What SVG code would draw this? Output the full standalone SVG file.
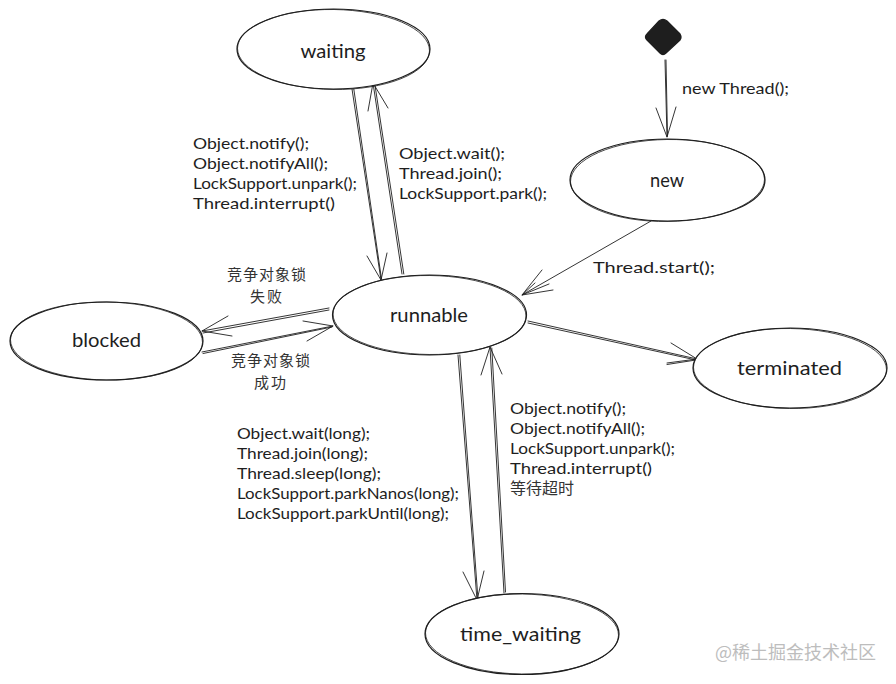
<svg xmlns="http://www.w3.org/2000/svg" width="896" height="684" viewBox="0 0 896 684">
<style>
.shape{fill:#fff;stroke:#1e1e1e;stroke-width:1.2}
.thin{fill:none;stroke:#1e1e1e;stroke-width:.8}
.line{fill:none;stroke:#1e1e1e;stroke-width:.9;stroke-linecap:round;stroke-linejoin:round}
text{font-family:"Lato","Noto Sans CJK SC",sans-serif;fill:#1e1e1e}
.node{font-size:19px;text-anchor:middle}
.lab{font-size:15px}
.cjk{font-family:"Noto Sans CJK SC",sans-serif;font-size:16px;fill:#333}
.cjk2{font-family:"Noto Sans CJK SC",sans-serif;font-size:15px;fill:#333}
.wm{font-family:"Noto Sans CJK SC",sans-serif;font-size:18px;fill:#bdbdbd}
</style>
<rect width="896" height="684" fill="#fff"/>
<g id="connectors">
<path class="line" d="M352 89L381 280M353.800 89L381.500 279M367 256L381 280L387 253"/>
<path class="line" d="M402 274L373 83M403.800 274L374.800 84M368 111L373 83L388 108"/>
<path class="line" d="M665 60L667 137M666 60L667.500 136M656 108L667 137L676 107"/>
<path class="line" d="M651 221L522 295M542 270L522 295L553 290M535 283L522 295L549 284"/>
<path class="line" d="M329 308L202 331M329 310L203 333M228 316L202 331L232 336"/>
<path class="line" d="M202 352L333 326M203 353.500L332 327M303 321L333 326L307 341"/>
<path class="line" d="M528 321L697 359M528 323L696 360M671 343L697 359L667 363M667 364.500L696 360"/>
<path class="line" d="M458 355L477 600M459.800 355L478 599M463 572L477 600L484 571"/>
<path class="line" d="M504 593L490 347M505.500 592L491.800 348M481 375L490 347L502 374"/>
</g>
<g id="node-waiting">
<ellipse class="shape" cx="333.500" cy="49" rx="96.500" ry="40"/>
<ellipse class="thin" cx="333.500" cy="49.500" rx="96" ry="40" transform="rotate(0.8 333.500 49.500)"/>
<text class="node" x="333" y="58" textLength="65" lengthAdjust="spacingAndGlyphs">waiting</text>
</g>
<g id="node-start">
<path d="M659 21Q663 18 667 21L680 34Q682 37 680 40L666 53Q663 56 660 53L647 40Q644 37 647 34Z" fill="#1e1e1e" stroke="#1e1e1e" stroke-width="1.300"/>
</g>
<g id="node-new">
<ellipse class="shape" cx="667.500" cy="180" rx="97.500" ry="41"/>
<ellipse class="thin" cx="667.500" cy="180.500" rx="97" ry="41" transform="rotate(-0.8 667.500 180.500)"/>
<text class="node" x="667" y="187" textLength="34" lengthAdjust="spacingAndGlyphs">new</text>
</g>
<g id="node-runnable">
<ellipse class="shape" cx="429.500" cy="315" rx="97" ry="40"/>
<ellipse class="thin" cx="429.500" cy="315" rx="96.500" ry="39.500" transform="rotate(0.6 429.500 315)"/>
<text class="node" x="429" y="322" textLength="78" lengthAdjust="spacingAndGlyphs">runnable</text>
</g>
<g id="node-blocked">
<ellipse class="shape" cx="106.500" cy="341" rx="96.500" ry="39"/>
<ellipse class="thin" cx="106.500" cy="341" rx="96" ry="39" transform="rotate(0.8 106.500 341)"/>
<text class="node" x="106.500" y="347" textLength="69" lengthAdjust="spacingAndGlyphs">blocked</text>
</g>
<g id="node-terminated">
<ellipse class="shape" cx="790" cy="368" rx="97" ry="40"/>
<ellipse class="thin" cx="790" cy="368.500" rx="96.500" ry="40" transform="rotate(0.8 790 368.500)"/>
<text class="node" x="789.500" y="375" textLength="105" lengthAdjust="spacingAndGlyphs">terminated</text>
</g>
<g id="node-time_waiting">
<ellipse class="shape" cx="522" cy="634" rx="97" ry="40.500"/>
<ellipse class="thin" cx="522" cy="634" rx="96.500" ry="40" transform="rotate(0.7 522 634)"/>
<text class="node" x="520.500" y="641" textLength="121" lengthAdjust="spacingAndGlyphs">time_waiting</text>
</g>
<g id="labels">
<text class="lab" x="682" y="94" textLength="107" lengthAdjust="spacingAndGlyphs">new Thread();</text>
<text class="lab" x="593" y="273" textLength="122" lengthAdjust="spacingAndGlyphs">Thread.start();</text>
<text class="lab" x="193" y="149" textLength="116" lengthAdjust="spacingAndGlyphs">Object.notify();</text>
<text class="lab" x="193" y="169" textLength="135" lengthAdjust="spacingAndGlyphs">Object.notifyAll();</text>
<text class="lab" x="193" y="189" textLength="164" lengthAdjust="spacingAndGlyphs">LockSupport.unpark();</text>
<text class="lab" x="193" y="209" textLength="142" lengthAdjust="spacingAndGlyphs">Thread.interrupt()</text>
<text class="lab" x="399" y="159" textLength="106" lengthAdjust="spacingAndGlyphs">Object.wait();</text>
<text class="lab" x="399" y="179" textLength="103" lengthAdjust="spacingAndGlyphs">Thread.join();</text>
<text class="lab" x="399" y="199" textLength="148" lengthAdjust="spacingAndGlyphs">LockSupport.park();</text>
<text class="lab" x="237" y="439" textLength="133" lengthAdjust="spacingAndGlyphs">Object.wait(long);</text>
<text class="lab" x="237" y="459" textLength="131" lengthAdjust="spacingAndGlyphs">Thread.join(long);</text>
<text class="lab" x="237" y="479" textLength="144" lengthAdjust="spacingAndGlyphs">Thread.sleep(long);</text>
<text class="lab" x="237" y="499" textLength="222" lengthAdjust="spacingAndGlyphs">LockSupport.parkNanos(long);</text>
<text class="lab" x="237" y="519" textLength="212" lengthAdjust="spacingAndGlyphs">LockSupport.parkUntil(long);</text>
<text class="lab" x="510" y="414" textLength="116" lengthAdjust="spacingAndGlyphs">Object.notify();</text>
<text class="lab" x="510" y="434" textLength="135" lengthAdjust="spacingAndGlyphs">Object.notifyAll();</text>
<text class="lab" x="510" y="454" textLength="165" lengthAdjust="spacingAndGlyphs">LockSupport.unpark();</text>
<text class="lab" x="510" y="474" textLength="142" lengthAdjust="spacingAndGlyphs">Thread.interrupt()</text>
<text class="cjk" x="510" y="494">等待超时</text>
<text class="cjk2" x="227" y="280" textLength="79">竞争对象锁</text>
<text class="cjk2" x="250" y="302" textLength="32">失败</text>
<text class="cjk2" x="231" y="366" textLength="79">竞争对象锁</text>
<text class="cjk2" x="254" y="388" textLength="32">成功</text>
<text class="wm" x="715" y="659">@稀土掘金技术社区</text>
</g>
</svg>
